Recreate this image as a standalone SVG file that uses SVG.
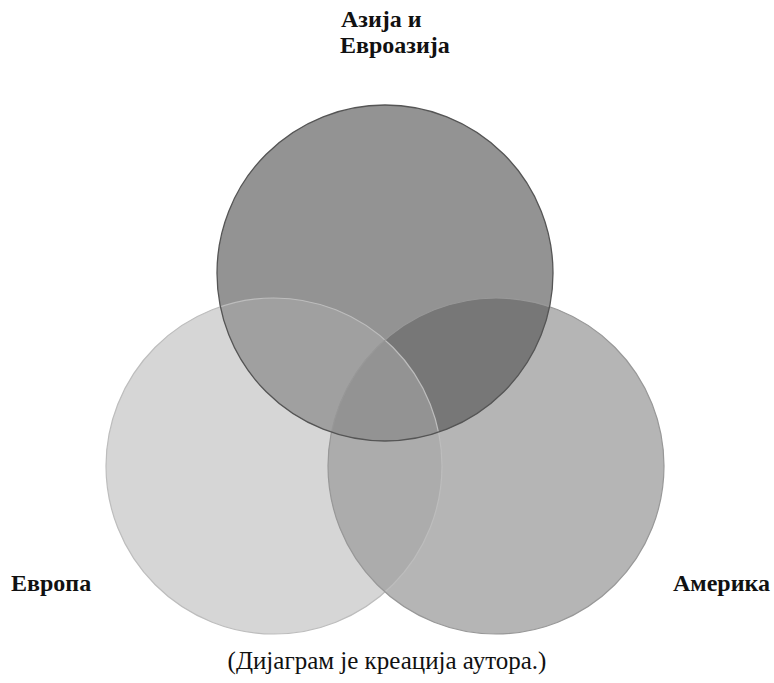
<svg xmlns="http://www.w3.org/2000/svg" width="774" height="683" viewBox="0 0 774 683">
  <style>
    .lbl { font-family: "Liberation Serif", "Times New Roman", serif; font-weight: bold; font-size: 24px; fill: #111; }
    .cap { font-family: "Liberation Serif", "Times New Roman", serif; font-size: 25px; fill: #111; }
  </style>
  <defs>
    <clipPath id="clipT"><circle cx="385" cy="273" r="168"/></clipPath>
    <clipPath id="clipL"><circle cx="274" cy="466" r="168"/></clipPath>
    <clipPath id="clipR"><circle cx="496" cy="466" r="168"/></clipPath>
  </defs>
  <rect width="774" height="683" fill="#ffffff"/>

  <g id="europe">
    <circle cx="274" cy="466" r="168" fill="#d6d6d6"/>
  </g>
  <g id="america">
    <circle cx="496" cy="466" r="168" fill="#b5b5b5"/>
  </g>
  <g id="asia">
    <circle cx="385" cy="273" r="168" fill="#939393"/>
  </g>

  <g id="overlaps">
    <g clip-path="url(#clipL)"><circle cx="496" cy="466" r="168" fill="#acacac"/></g>
    <g clip-path="url(#clipL)"><circle cx="385" cy="273" r="168" fill="#a0a0a0"/></g>
    <g clip-path="url(#clipR)"><circle cx="385" cy="273" r="168" fill="#777777"/></g>
    <g clip-path="url(#clipL)"><g clip-path="url(#clipR)"><circle cx="385" cy="273" r="168" fill="#939393"/></g></g>
  </g>

  <g id="outlines" fill="none">
    <circle cx="274" cy="466" r="168" stroke="#bdbdbd" stroke-width="1.2"/>
    <circle cx="496" cy="466" r="168" stroke="#989898" stroke-width="1.2"/>
    <circle cx="385" cy="273" r="168" stroke="#555555" stroke-width="1.3"/>
  </g>

  <g id="labels">
    <text class="lbl" x="341" y="27">Азија и</text>
    <text class="lbl" x="340" y="53">Евроазија</text>
    <text class="lbl" x="11" y="591">Европа</text>
    <text class="lbl" x="673" y="591">Америка</text>
    <text class="cap" x="387" y="669" text-anchor="middle">(Дијаграм је креација аутора.)</text>
  </g>
</svg>
